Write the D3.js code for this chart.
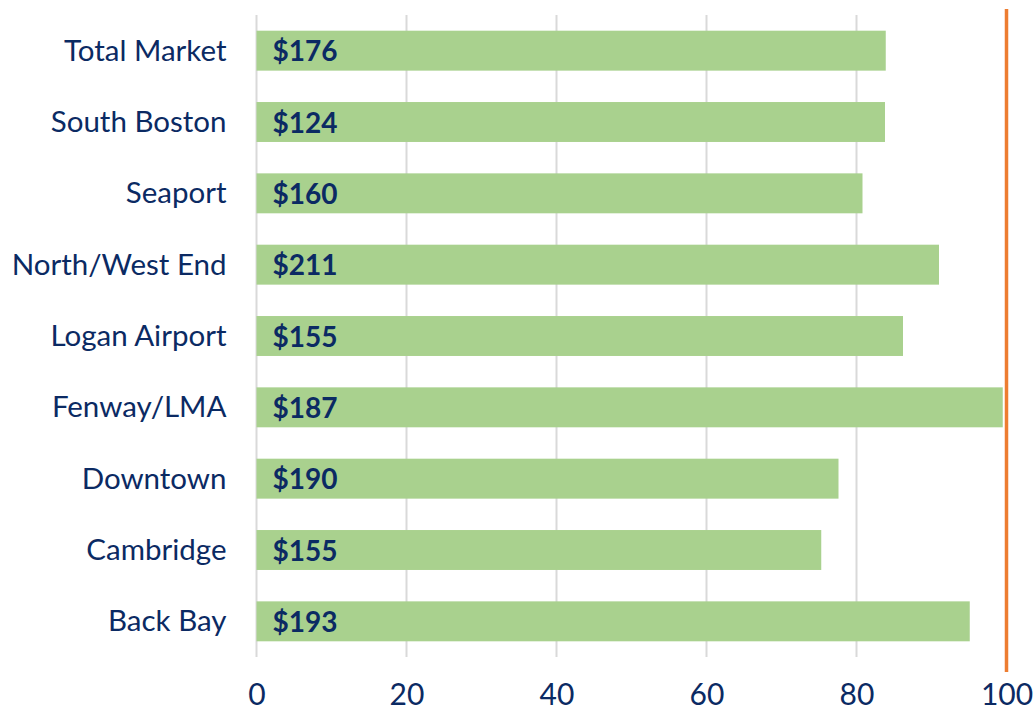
<!DOCTYPE html>
<html lang="en">
<head>
<meta charset="utf-8">
<title>Market bars</title>
<script src="https://cdn.jsdelivr.net/npm/d3@7"></script>
<style>
  body { margin: 0; background: #fff; }
  text { font-family: Lato, "Open Sans", sans-serif; fill: #0b2a63; }
  .grid line { stroke: #d9d9d9; stroke-width: 2; }
</style>
</head>
<body>
<script>
// data
var categories = ["Total Market", "South Boston", "Seaport", "North/West End",
                  "Logan Airport", "Fenway/LMA", "Downtown", "Cambridge", "Back Bay"];
var values = [83.9, 83.8, 80.8, 91.0, 86.2, 99.5, 77.6, 75.3, 95.1];
var priceLabels = ["$176", "$124", "$160", "$211", "$155", "$187", "$190", "$155", "$193"];
var xTicks = [0, 20, 40, 60, 80, 100];
var refValue = 100;

var w = 1035, h = 711;
var plotLeft = 256.5, plotRight = 1006.5, plotTop = 15, plotBottom = 657;

var svg = d3.select("body").append("svg")
    .attr("width", w)
    .attr("height", h);

var xScale = d3.scaleLinear().domain([0, 100]).range([plotLeft, plotRight]);
var yScale = d3.scaleBand().domain(categories).range([plotTop, plotBottom]).paddingInner(0.44).paddingOuter(0.22);

// gridlines (not at 100, the orange line sits there)
svg.append("g").attr("class", "grid")
  .selectAll("line")
  .data(xTicks.filter(function(d){ return d < 100; }))
  .enter().append("line")
  .attr("x1", function(d){ return xScale(d); })
  .attr("x2", function(d){ return xScale(d); })
  .attr("y1", plotTop)
  .attr("y2", plotBottom);

// bars
svg.selectAll("rect.bar")
  .data(values)
  .enter().append("rect")
  .attr("class", "bar")
  .attr("x", xScale(0))
  .attr("y", function(d, i){ return yScale(categories[i]); })
  .attr("width", function(d){ return xScale(d) - xScale(0); })
  .attr("height", yScale.bandwidth())
  .attr("fill", "#a9d18e");

// price labels inside bars
svg.selectAll("text.price")
  .data(priceLabels)
  .enter().append("text")
  .attr("class", "price")
  .attr("x", xScale(0) + 16)
  .attr("y", function(d, i){ return yScale(categories[i]) + yScale.bandwidth() / 2; })
  .attr("dy", "0.38em")
  .style("font-size", "28px")
  .style("font-weight", "bold")
  .text(function(d){ return d; });

// reference line
svg.append("line")
  .attr("x1", xScale(refValue))
  .attr("x2", xScale(refValue))
  .attr("y1", 9)
  .attr("y2", 672)
  .attr("stroke", "#ed7d31")
  .attr("stroke-width", 3.5);

// y axis (labels only)
var yAxis = d3.axisLeft(yScale).tickSize(0).tickPadding(30);
var yg = svg.append("g")
  .attr("transform", "translate(" + plotLeft + ",0)")
  .call(yAxis);
yg.select(".domain").remove();
yg.selectAll("text").style("font-size", "29.5px").attr("fill", null).attr("dy", "0.34em");

// x axis (labels only)
var xAxis = d3.axisBottom(xScale).tickValues(xTicks).tickSize(0).tickPadding(27);
var xg = svg.append("g")
  .attr("transform", "translate(0," + plotBottom + ")")
  .call(xAxis);
xg.select(".domain").remove();
xg.selectAll("text").style("font-size", "30px").attr("fill", null);
</script>
</body>
</html>
